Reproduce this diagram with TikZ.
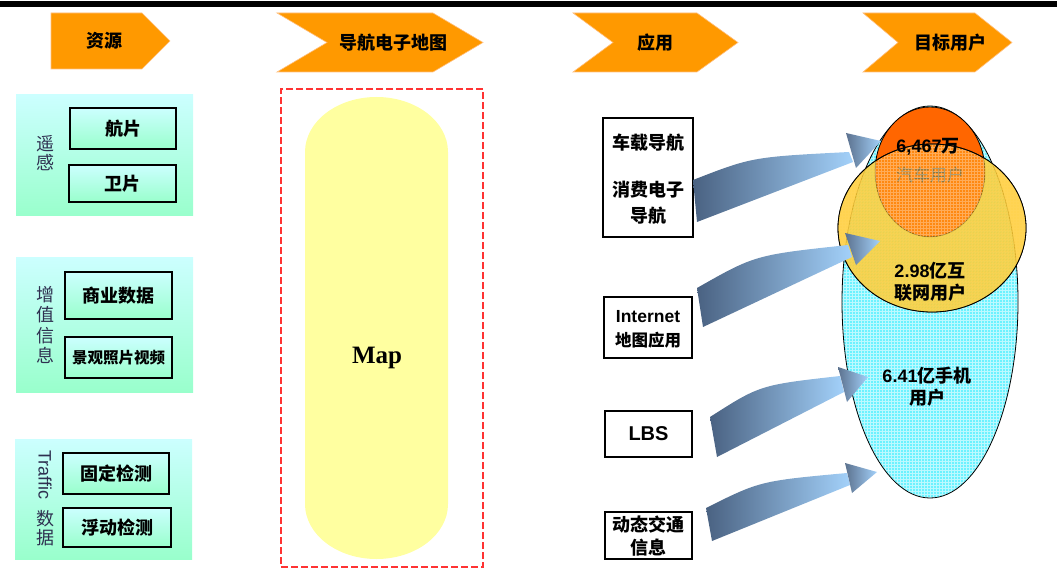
\documentclass[tikz,border=0pt]{standalone}
\usepackage{fontspec}
\setmainfont{Liberation Serif}
\newfontfamily\cjk{Noto Sans CJK SC}
\newfontfamily\arial{Liberation Sans}
\usetikzlibrary{shapes.geometric}
\definecolor{hdr}{HTML}{FF9900}
\definecolor{hdredge}{HTML}{FFC080}
\definecolor{pantop}{HTML}{CCFFFF}
\definecolor{panbot}{HTML}{99FFCC}
\definecolor{mapyel}{HTML}{FFFFA0}
\definecolor{mapred}{HTML}{FF3333}
\definecolor{cyanfill}{HTML}{6CF2FF}
\definecolor{orgfill}{HTML}{FF6600}
\definecolor{yelfill}{HTML}{FFCC33}
\definecolor{arrdark}{HTML}{4A6282}
\definecolor{arrlight}{HTML}{A3D1FA}
\definecolor{lbl}{HTML}{2E3050}
\tikzset{
  hdrshape/.style={fill=hdr, draw=hdredge, line width=0.6pt},
  hdrtext/.style={font=\cjk\bfseries\fontsize{18}{20}\selectfont, inner sep=0},
  panel/.style={draw=none, top color=pantop, bottom color=panbot, inner sep=0},
  srcbox/.style={draw=black, line width=1.2pt, top color=pantop, bottom color=panbot, inner sep=0, font=\cjk\bfseries\fontsize{18}{20}\selectfont},
  vlabel/.style={font=\cjk\fontsize{18}{19}\selectfont, text=lbl, align=center, inner sep=0},
  appbox/.style={draw=black, line width=1.2pt, fill=white, inner sep=0},
  apptext/.style={font=\cjk\bfseries\fontsize{18}{20}\selectfont, inner sep=0},
  ell/.style={ellipse, inner sep=0, draw=black, line width=0.8pt},
  gridtex/.style={path picture={\draw[white, line width=0.7pt, opacity=#1]
      (path picture bounding box.south west) grid[step=3pt] (path picture bounding box.north east);}},
  gridtex/.default=0.55,
  elltext/.style={font=\cjk\bfseries\fontsize{18}{22}\selectfont, align=center, inner sep=0},
  shaft/.style={left color=arrdark, right color=arrlight},
  head/.style={left color=arrdark!90!white, right color=arrlight}
}
\begin{document}
\begin{tikzpicture}[x=1pt,y=-1pt]
\useasboundingbox (0,0) rectangle (1057,572);
\fill[black] (0,1) rectangle (1057,7);

% ---- header arrows
\filldraw[hdrshape] (51,13) -- (142,13) -- (170,41) -- (142,69) -- (51,69) -- cycle;
\node[hdrtext] (h1) at (104,41) {资源};
\filldraw[hdrshape] (277,13) -- (433,13) -- (483,42.5) -- (433,72) -- (277,72) -- (327,42.5) -- cycle;
\node[hdrtext] (h2) at (393,42.5) {导航电子地图};
\filldraw[hdrshape] (573,13) -- (697,13) -- (738,42.5) -- (697,72) -- (573,72) -- (613,42.5) -- cycle;
\node[hdrtext] (h3) at (655,42.5) {应用};
\filldraw[hdrshape] (863,13) -- (975,13) -- (1012,42.5) -- (975,72) -- (863,72) -- (898,42.5) -- cycle;
\node[hdrtext] (h4) at (950,42.5) {目标用户};

% ---- sources
\node[panel, minimum width=177pt, minimum height=121pt] (p1) at (104.5,155.5) {};
\node[vlabel] (l1) at (45,153) {遥\\感};
\node[srcbox, minimum width=106pt, minimum height=41pt] (s1) at (123,128.5) {航片};
\node[srcbox, minimum width=107pt, minimum height=37pt] (s2) at (122.5,183.5) {卫片};

\node[panel, minimum width=177pt, minimum height=135pt] (p2) at (104.5,324.5) {};
\node[vlabel, font=\cjk\fontsize{18}{20.5}\selectfont] (l2) at (45,325) {增\\值\\信\\息};
\node[srcbox, minimum width=107pt, minimum height=47pt] (s3) at (118.5,295.5) {商业数据};
\node[srcbox, minimum width=107pt, minimum height=41pt, font=\cjk\bfseries\fontsize{15.5}{18}\selectfont] (s4) at (118.5,357.5) {景观照片视频};

\node[panel, minimum width=177pt, minimum height=120pt] (p3) at (103.5,499) {};
\node[rotate=-90, font=\arial\fontsize{18}{20}\selectfont, text=lbl, inner sep=0] (l3a) at (45,475) {Traffic};
\node[vlabel] (l3b) at (45,528) {数\\据};
\node[srcbox, minimum width=106pt, minimum height=41pt] (s5) at (116,473.5) {固定检测};
\node[srcbox, minimum width=108pt, minimum height=39pt] (s6) at (117,527.5) {浮动检测};

% ---- map
\node[draw=mapred, dash pattern=on 7pt off 3pt, line width=1.2pt, minimum width=202pt, minimum height=478pt, inner sep=0] (frame) at (382,328) {};
\fill[mapyel] (305,504) -- (305,152) .. controls (305,121.6) and (337,97) .. (376.5,97)
  .. controls (416,97) and (448,121.6) .. (448,152) -- (448,504)
  .. controls (448,534.4) and (416,559) .. (376.5,559)
  .. controls (337,559) and (305,534.4) .. (305,504) -- cycle;
\node[font=\bfseries\fontsize{25}{28}\selectfont, inner sep=0] (map) at (377,358) {Map};

% ---- applications
\node[appbox, minimum width=90pt, minimum height=119pt] (a1) at (648,177.5) {};
\node[apptext] (a1t1) at (648,143) {车载导航};
\node[apptext] (a1t2) at (648,190) {消费电子};
\node[apptext] (a1t3) at (648,216) {导航};
\node[appbox, minimum width=88pt, minimum height=61pt] (a2) at (648,327.5) {};
\node[font=\arial\bfseries\fontsize{17.5}{20}\selectfont, inner sep=0] (a2t1) at (648,317) {Internet};
\node[apptext, font=\cjk\bfseries\fontsize{16.5}{20}\selectfont] (a2t2) at (648,340) {地图应用};
\node[appbox, minimum width=87pt, minimum height=46pt] (a3) at (648.5,434) {};
\node[font=\arial\bfseries\fontsize{20}{22}\selectfont, inner sep=0] (a3t) at (648.5,434) {LBS};
\node[appbox, minimum width=87pt, minimum height=47pt] (a4) at (648.5,535.5) {};
\node[apptext] (a4t1) at (648.5,525) {动态交通};
\node[apptext] (a4t2) at (648.5,548) {信息};

% ---- target users
\node[ell, fill=cyanfill, gridtex, minimum width=176pt, minimum height=392pt] (mobile) at (930,302) {};
\node[ell, fill=orgfill, minimum width=110pt, minimum height=130pt] (car) at (930,172) {};
\node[elltext, font=\cjk\fontsize{17}{20}\selectfont, text=black!70] (cart) at (930,175) {汽车用户};
\node[ell, fill=yelfill, fill opacity=0.35, gridtex=0.3, minimum width=188pt, minimum height=168pt] (net) at (932,228) {};
\begin{scope}
  \clip (932,228) ellipse [x radius=94pt, y radius=84pt];
  \fill[yelfill, fill opacity=0.78, even odd rule]
    (932,228) ellipse [x radius=94pt, y radius=84pt]
    (930,172) ellipse [x radius=55pt, y radius=65pt];
\end{scope}
\draw[black, line width=0.8pt] (net.center) ellipse [x radius=94pt, y radius=84pt];
\node[elltext] (carn) at (928,147) {\arial\bfseries 6,467\cjk 万};
\node[elltext] (nett) at (930,282) {\arial\bfseries 2.98\cjk 亿互\\联网用户};
\node[elltext] (mobt) at (927,387) {\arial\bfseries 6.41\cjk 亿手机\\用户};

% ---- curved arrows
\shade[shaft] (693,180) .. controls (752,157) .. (849,152) -- (853,162) -- (697,222) -- cycle;
\shade[head] (846,133) -- (881,141) -- (856,168) -- cycle;
\shade[shaft] (697,288) .. controls (755,255) .. (848,245) -- (852,257) -- (703,327) -- cycle;
\shade[head] (845,233) -- (880,241) -- (856,265) -- cycle;
\shade[shaft] (710,417) .. controls (760,385) .. (840,376) -- (844,392) -- (717,457) -- cycle;
\shade[head] (838,367) -- (868,377) -- (847,402) -- cycle;
\shade[shaft] (706,508) .. controls (760,481) .. (847,473) -- (850,485) -- (712,541) -- cycle;
\shade[head] (845,463) -- (877,472) -- (852,493) -- cycle;
\end{tikzpicture}
\end{document}
